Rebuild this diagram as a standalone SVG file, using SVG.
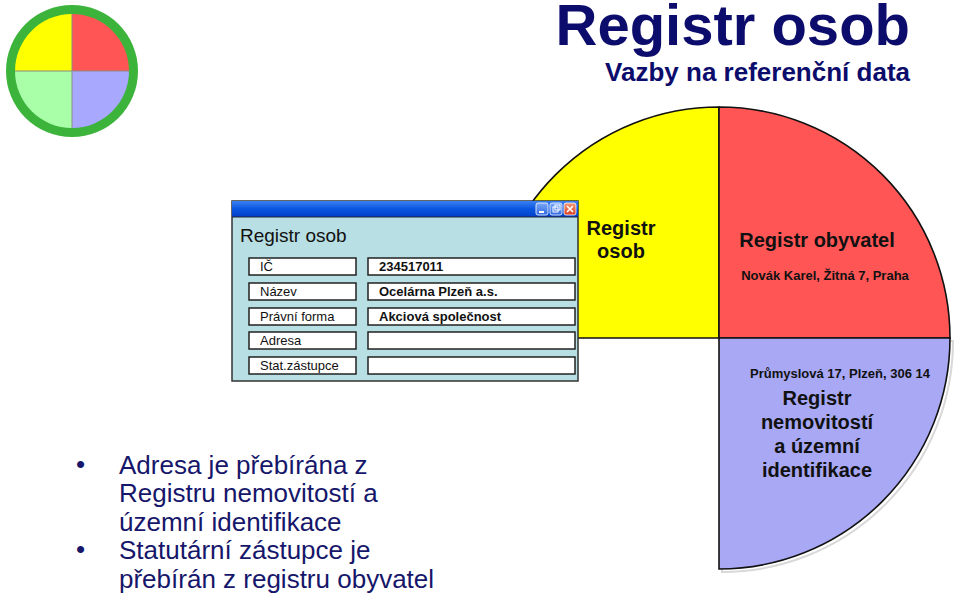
<svg xmlns="http://www.w3.org/2000/svg" width="960" height="604" viewBox="0 0 960 604">
<defs>
<linearGradient id="tb" x1="0" y1="0" x2="0" y2="1">
<stop offset="0" stop-color="#3a7ff0"/>
<stop offset="0.5" stop-color="#0a55e0"/>
<stop offset="1" stop-color="#0040c8"/>
</linearGradient>
<linearGradient id="bb" x1="0" y1="0" x2="0" y2="1">
<stop offset="0" stop-color="#7aa8f8"/>
<stop offset="1" stop-color="#2f68e0"/>
</linearGradient>
<linearGradient id="rb" x1="0" y1="0" x2="0" y2="1">
<stop offset="0" stop-color="#f59a7a"/>
<stop offset="1" stop-color="#d84020"/>
</linearGradient>
</defs>
<style>
.q{stroke:#111;stroke-width:1.6}
.lb{fill:#fff;stroke:#222;stroke-width:1.5}
.lt{font-family:"Liberation Sans",Arial,sans-serif;font-size:13px;fill:#111}
.vt{font-family:"Liberation Sans",Arial,sans-serif;font-size:13px;font-weight:bold;fill:#111}
.b{font-family:"Liberation Sans",Arial,sans-serif;font-weight:bold;fill:#111}
.bul{font-family:"Liberation Sans",Arial,sans-serif;font-size:26px;fill:#16166a}
</style>
<rect width="960" height="604" fill="#fff"/>

<g id="logo">
<circle cx="72" cy="71" r="66" fill="#3cb43c"/>
<path d="M72,71 L72,14 A57,57 0 0 0 15,71 Z" fill="#ffff00"/>
<path d="M72,71 L72,14 A57,57 0 0 1 129,71 Z" fill="#ff5555"/>
<path d="M72,71 L15,71 A57,57 0 0 0 72,128 Z" fill="#a8ffa8"/>
<path d="M72,71 L129,71 A57,57 0 0 1 72,128 Z" fill="#a8a8ff"/>
<path d="M72,14 V128 M15,71 H129" stroke="#8a8a8a" stroke-width="1"/>
</g>

<g id="title">
<text x="910" y="45" text-anchor="end" font-family="Liberation Sans,Arial,sans-serif" font-weight="bold" font-size="58" fill="#0c0c6c">Registr osob</text>
<text x="910" y="81" text-anchor="end" font-family="Liberation Sans,Arial,sans-serif" font-weight="bold" font-size="26" fill="#0c0c6c">Vazby na referenční data</text>
</g>

<g id="registr-osob-quadrant">
<path class="q" d="M719,338 L719,107 A231,231 0 0 0 488,338 Z" fill="#ffff00"/>
<text class="b" x="621" y="235" text-anchor="middle" font-size="20">Registr</text>
<text class="b" x="621" y="258" text-anchor="middle" font-size="20">osob</text>
</g>

<g id="registr-obyvatel">
<path class="q" d="M719,338 L719,107 A231,231 0 0 1 950,338 Z" fill="#ff5555"/>
<text class="b" x="817" y="247" text-anchor="middle" font-size="20">Registr obyvatel</text>
<text class="b" x="825" y="280" text-anchor="middle" font-size="13">Novák Karel, Žitná 7, Praha</text>
</g>

<g id="registr-nemovitosti">
<path d="M722,341 L953,341 A231,231 0 0 1 722,572 Z" fill="none" stroke="#d8d8d8" stroke-width="2"/>
<path class="q" d="M719,338 L950,338 A231,231 0 0 1 719,569 Z" fill="#a8a8f5"/>
<text class="b" x="840" y="378" text-anchor="middle" font-size="13">Průmyslová 17, Plzeň, 306 14</text>
<text class="b" x="817" y="405" text-anchor="middle" font-size="20">Registr</text>
<text class="b" x="817" y="429" text-anchor="middle" font-size="20">nemovitostí</text>
<text class="b" x="817" y="453" text-anchor="middle" font-size="20">a územní</text>
<text class="b" x="817" y="477" text-anchor="middle" font-size="20">identifikace</text>
</g>

<g id="window">
<rect x="232" y="201" width="346" height="180" fill="#b8dfe3" stroke="#333" stroke-width="1.5"/>
<rect x="232" y="201" width="346" height="16" fill="url(#tb)"/>
<line x1="232" y1="217" x2="578" y2="217" stroke="#223" stroke-width="1"/>
<rect x="536" y="203" width="12" height="12" rx="2" fill="url(#bb)" stroke="#fff" stroke-width="0.8"/>
<rect x="539" y="211" width="5" height="2" fill="#fff"/>
<rect x="550" y="203" width="12" height="12" rx="2" fill="url(#bb)" stroke="#fff" stroke-width="0.8"/>
<rect x="553" y="207" width="5" height="5" fill="none" stroke="#fff" stroke-width="1"/>
<rect x="555" y="205" width="5" height="5" fill="none" stroke="#fff" stroke-width="1"/>
<rect x="564" y="203" width="12" height="12" rx="2" fill="url(#rb)" stroke="#fff" stroke-width="0.8"/>
<path d="M567,206 L573,212 M573,206 L567,212" stroke="#fff" stroke-width="1.6"/>
<text x="240" y="242" font-family="Liberation Sans,Arial,sans-serif" font-size="19" fill="#111">Registr osob</text>
<rect class="lb" x="249" y="258" width="107" height="17"/>
<rect class="lb" x="368" y="258" width="207" height="17"/>
<text class="lt" x="260" y="271">IČ</text>
<text class="vt" x="379" y="271">234517011</text>
<rect class="lb" x="249" y="283" width="107" height="17"/>
<rect class="lb" x="368" y="283" width="207" height="17"/>
<text class="lt" x="260" y="296">Název</text>
<text class="vt" x="379" y="296">Ocelárna Plzeň a.s.</text>
<rect class="lb" x="249" y="308" width="107" height="17"/>
<rect class="lb" x="368" y="308" width="207" height="17"/>
<text class="lt" x="260" y="321">Právní forma</text>
<text class="vt" x="379" y="321">Akciová společnost</text>
<rect class="lb" x="249" y="332" width="107" height="17"/>
<rect class="lb" x="368" y="332" width="207" height="17"/>
<text class="lt" x="260" y="345">Adresa</text>
<rect class="lb" x="249" y="357" width="107" height="17"/>
<rect class="lb" x="368" y="357" width="207" height="17"/>
<text class="lt" x="260" y="370">Stat.zástupce</text>
</g>

<g id="bullets">
<text class="bul" x="76" y="473">•</text>
<text class="bul" x="119" y="474">Adresa je přebírána z</text>
<text class="bul" x="119" y="502">Registru nemovitostí a</text>
<text class="bul" x="119" y="531">územní identifikace</text>
<text class="bul" x="76" y="558">•</text>
<text class="bul" x="119" y="559">Statutární zástupce je</text>
<text class="bul" x="119" y="588">přebírán z registru obyvatel</text>
</g>
<g id="connectors"/>
</svg>
